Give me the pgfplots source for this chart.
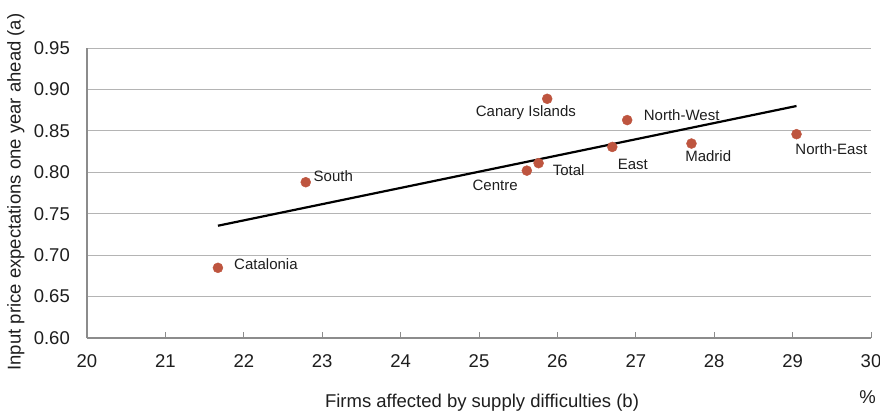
\documentclass[border=0pt]{standalone}
\usepackage{pgfplots}
\pgfplotsset{compat=1.18}
\usepackage{fontspec}
\setmainfont{Liberation Sans}
\definecolor{dotred}{HTML}{BE553F}
\definecolor{gridgray}{HTML}{B4B4B4}
\definecolor{axgray}{HTML}{8C8C8C}
\definecolor{txt}{HTML}{1E1E1E}
\begin{document}
\begin{tikzpicture}[x=1bp,y=1bp]
\useasboundingbox (0,0) rectangle (880,414);
\begin{axis}[
  at={(87bp,76bp)}, anchor=south west,
  scale only axis, width=784bp, height=290bp,
  xmin=20, xmax=30, ymin=0.60, ymax=0.95,
  xtick={20,21,...,30}, ytick={0.60,0.65,...,0.951},
  axis x line*=bottom, axis y line*=left,
  axis line style={axgray, line width=1.3bp},
  ymajorgrids, grid style={gridgray, line width=1bp},
  tick align=inside, major tick length=6bp,
  xtick style={axgray, line width=1bp},
  ytick style={draw=none},
  /pgf/number format/assume math mode=true,
  xticklabel style={font=\fontsize{18.5bp}{22bp}\selectfont, text=txt, anchor=center, inner sep=0pt, yshift=-23bp},
  yticklabel style={font=\fontsize{18.5bp}{22bp}\selectfont, text=txt, anchor=east, inner sep=0pt, xshift=-17bp,
    /pgf/number format/.cd, fixed, fixed zerofill, precision=2},
  clip=false,
]
\addplot[black, line width=2.2bp] coordinates {(21.67,0.7355) (29.05,0.880)};
\addplot[only marks, mark=*, mark size=5bp, color=dotred, mark options={draw=dotred, fill=dotred}] coordinates {
  (21.67,0.6847) (22.79,0.788) (25.87,0.8887) (26.89,0.863) (26.70,0.8306)
  (27.71,0.8347) (29.05,0.846) (25.76,0.811) (25.61,0.802)};
\tikzset{lbl/.style={font=\fontsize{15bp}{18bp}\selectfont, text=txt, anchor=mid, inner sep=0pt}}
\node[lbl, xshift=48bp, yshift=1.2bp] at (axis cs:21.67,0.6847) {Catalonia};
\node[lbl, xshift=27.6bp, yshift=3.8bp] at (axis cs:22.79,0.788) {South};
\node[lbl, xshift=-21.3bp, yshift=-15.2bp] at (axis cs:25.87,0.8887) {Canary Islands};
\node[lbl, xshift=54.5bp, yshift=1.8bp] at (axis cs:26.89,0.863) {North-West};
\node[lbl, xshift=20.5bp, yshift=-19.5bp] at (axis cs:26.70,0.8306) {East};
\node[lbl, xshift=16.7bp, yshift=-15.1bp] at (axis cs:27.71,0.8347) {Madrid};
\node[lbl, xshift=34.8bp, yshift=-17.5bp] at (axis cs:29.05,0.846) {North-East};
\node[lbl, xshift=30bp, yshift=-9.5bp] at (axis cs:25.76,0.811) {Total};
\node[lbl, xshift=-31.7bp, yshift=-17.1bp] at (axis cs:25.61,0.802) {Centre};
\end{axis}
\node[font=\fontsize{18.5bp}{22bp}\selectfont, text=txt, anchor=mid, inner sep=0pt] at (482,9) {Firms affected by supply difficulties (b)};
\node[font=\fontsize{18.5bp}{22bp}\selectfont, text=txt, anchor=mid, inner sep=0pt] at (867.5,13) {\%};
\node[font=\fontsize{18.5bp}{22bp}\selectfont, text=txt, anchor=mid, inner sep=0pt, rotate=90] at (18,222) {Input price expectations one year ahead (a)};
\end{tikzpicture}
\end{document}
